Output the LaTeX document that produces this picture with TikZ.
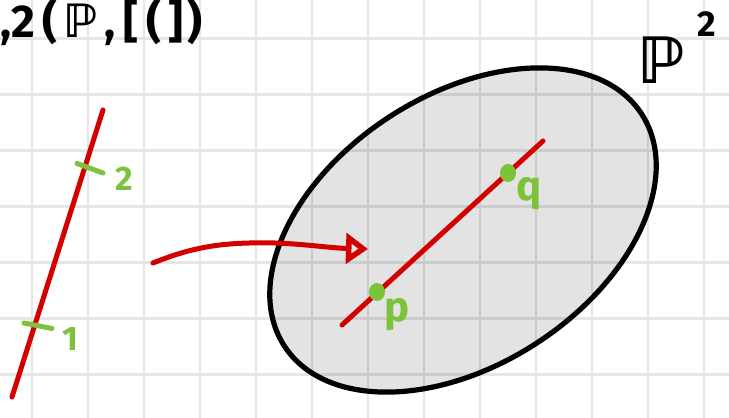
\documentclass[tikz,border=0pt]{standalone}
\usepackage{amssymb}
\usepackage{fontspec}
\setmainfont{Fira Sans}
\newfontfamily\djv{DejaVu Sans}
\usetikzlibrary{arrows.meta,shapes.geometric}
\definecolor{hred}{HTML}{D40000}
\definecolor{hgreen}{HTML}{7CC33B}
\definecolor{gridc}{HTML}{E6E6E6}
\tikzset{
  gridline/.style={draw=gridc,line width=2.4pt},
  redline/.style={draw=hred,line width=5pt,line cap=round},
  tickline/.style={draw=hgreen,line width=5pt,line cap=round},
  greenlabel/.style={text=hgreen,font=\bfseries\fontsize{34}{34}\selectfont,inner sep=0pt},
  blacklabel/.style={text=black,inner sep=0pt}
}
\begin{document}
\begin{tikzpicture}[x=1pt,y=1pt]
\useasboundingbox (0,0) rectangle (729,418);
\clip (0,0) rectangle (729,418);
\fill[white] (0,0) rectangle (729,418);
% grid
\foreach \gx in {32,88,...,704} \draw[gridline] (\gx,0) -- (\gx,418);
\foreach \gy in {43.3,99.3,...,380} \draw[gridline] (0,\gy) -- (729,\gy);
% ellipse (P^2)
\fill[black,fill opacity=0.11] (463,188) ellipse [x radius=213, y radius=135, rotate=33];
\draw[line width=5.2pt] (463,188) ellipse [x radius=213, y radius=135, rotate=33];
\node[ellipse,minimum width=426pt,minimum height=270pt,rotate=33,inner sep=0pt] (E) at (463,188) {};
% line in ellipse
\coordinate (L1) at (342,93);
\coordinate (L2) at (543,277);
\draw[redline] (L1) -- (L2);
\fill[hgreen] (377,126) ellipse [x radius=8, y radius=9];
\fill[hgreen] (508,245) ellipse [x radius=8, y radius=9];
\node[greenlabel,font=\bfseries\fontsize{42}{42}\selectfont] (pl) at (397,103) {p};
\node[greenlabel,font=\bfseries\fontsize{42}{42}\selectfont] (ql) at (529,224) {q};
% left line
\coordinate (A1) at (12,21);
\coordinate (A2) at (103,308);
\draw[redline] (A1) -- (A2);
\coordinate (T2a) at (77,254.5);
\coordinate (T2b) at (103,245);
\coordinate (T1a) at (24,95);
\coordinate (T1b) at (52,89.5);
\draw[tickline] (T2a) -- (T2b);
\draw[tickline] (T1a) -- (T1b);
\node[greenlabel] (n2) at (124,239) {2};
\node[greenlabel] (n1) at (70,79) {1};
% arrow
\coordinate (S) at (153,155);
\coordinate (T) at (368,169);
\draw[hred,line width=5pt,line cap=round,-{Triangle[open,length=22pt,width=30pt,line width=6pt]}]
  (S) .. controls (195,172) and (225,176) .. (275,175) .. controls (305,174) and (330,170) .. (T);
% labels
\node[blacklabel,anchor=base west,font=\bfseries\fontsize{46}{46}\selectfont] (title) at (0,380) {,2\hspace{8pt}(\hspace{6pt}{\djv\bfseries ℙ}\hspace{6pt},\hspace{8pt}[\,(\,]\hspace{4pt})};
\node[blacklabel,font=\djv\bfseries\fontsize{64}{64}\selectfont] (P2) at (661,358) {ℙ};
\node[blacklabel,font=\bfseries\fontsize{36}{36}\selectfont] (sup2) at (707,394) {2};
\end{tikzpicture}
\end{document}
